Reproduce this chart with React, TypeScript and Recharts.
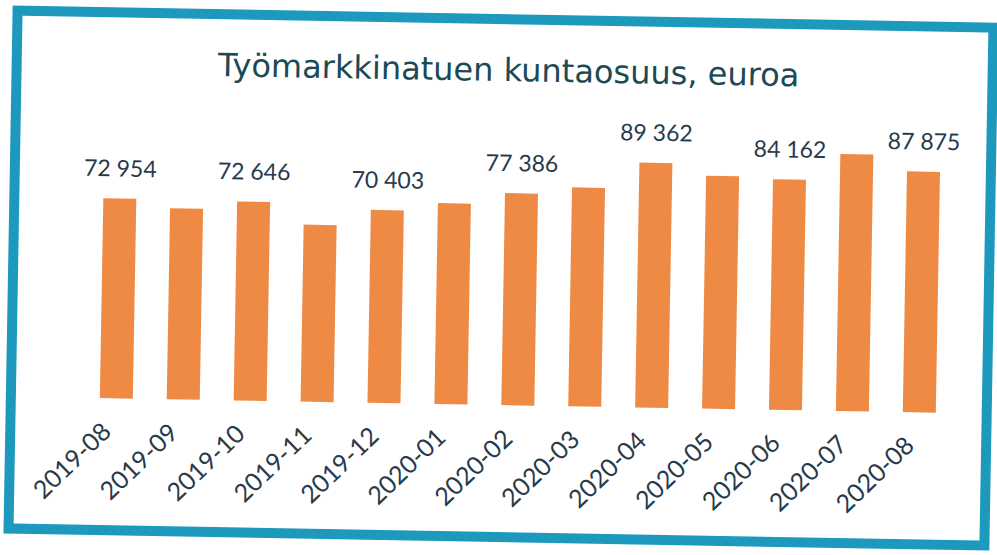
import { BarChart, Bar, XAxis, YAxis, LabelList } from 'recharts';

const months = [
  '2019-08', '2019-09', '2019-10', '2019-11', '2019-12', '2020-01', '2020-02',
  '2020-03', '2020-04', '2020-05', '2020-06', '2020-07', '2020-08',
];
// kuntaosuus, euroa (unlabelled bars)
const amounts = [72954, 69700, 72646, 64600, 70403, 73300, 77386, 79900, 89362, 85000, 84162, 93800, 87875];

const fmt = (v: number) => String(v).replace(/\B(?=(\d{3})+(?!\d))/g, '\u00a0');

const data = months.map((m, i) => ({
  month: m,
  amount: amounts[i],
  // every other bar carries a value label
  label: i % 2 === 0 ? fmt(amounts[i]) : '',
}));

const FONT = 'Lato, "Open Sans", sans-serif';
const TEXT = '#263a4c';

const MonthTick = (props: any) => {
  const { x, y, payload } = props;
  const ax = x - 3;
  const ay = y + 27;
  return (
    <text
      x={ax}
      y={ay}
      transform={`rotate(-45, ${ax}, ${ay})`}
      textAnchor="end"
      fontSize={25}
      fontFamily={FONT}
      fill={TEXT}
    >
      {payload.value}
    </text>
  );
};

export default function App() {
  return (
    <div style={{ position: 'absolute', left: 0, top: 0, width: 997, height: 555, overflow: 'hidden', background: '#fff' }}>
      <div style={{ position: 'absolute', left: 0, top: 0, width: 997, height: 555, transform: 'rotate(1deg)' }}>
        <div
          style={{
            position: 'absolute',
            left: 8,
            top: 14,
            width: 966,
            height: 508,
            border: '10px solid #1c99bd',
            background: '#fff',
          }}
        />
        <div
          style={{
            position: 'absolute',
            left: 0,
            width: 1010,
            top: 50,
            textAlign: 'center',
            fontFamily: '"DejaVu Sans", Verdana, sans-serif',
            fontSize: 32,
            color: '#1a4a56',
            lineHeight: '40px',
          }}
        >
          Työmarkkinatuen kuntaosuus, euroa
        </div>
        <div style={{ position: 'absolute', left: 0, top: 0 }}>
          <BarChart
            width={997}
            height={555}
            data={data}
            margin={{ top: 131, right: 42, bottom: 0, left: 85 }}
          >
            <XAxis
              dataKey="month"
              height={150}
              axisLine={false}
              tickLine={false}
              interval={0}
              tick={<MonthTick />}
            />
            <YAxis hide domain={[0, 100000]} />
            <Bar dataKey="amount" fill="#ef8a45" barSize={33} isAnimationActive={false}>
              <LabelList
                dataKey="label"
                position="top"
                offset={22}
                fontSize={23}
                fontFamily={FONT}
                fill={TEXT}
              />
            </Bar>
          </BarChart>
        </div>
      </div>
    </div>
  );
}
